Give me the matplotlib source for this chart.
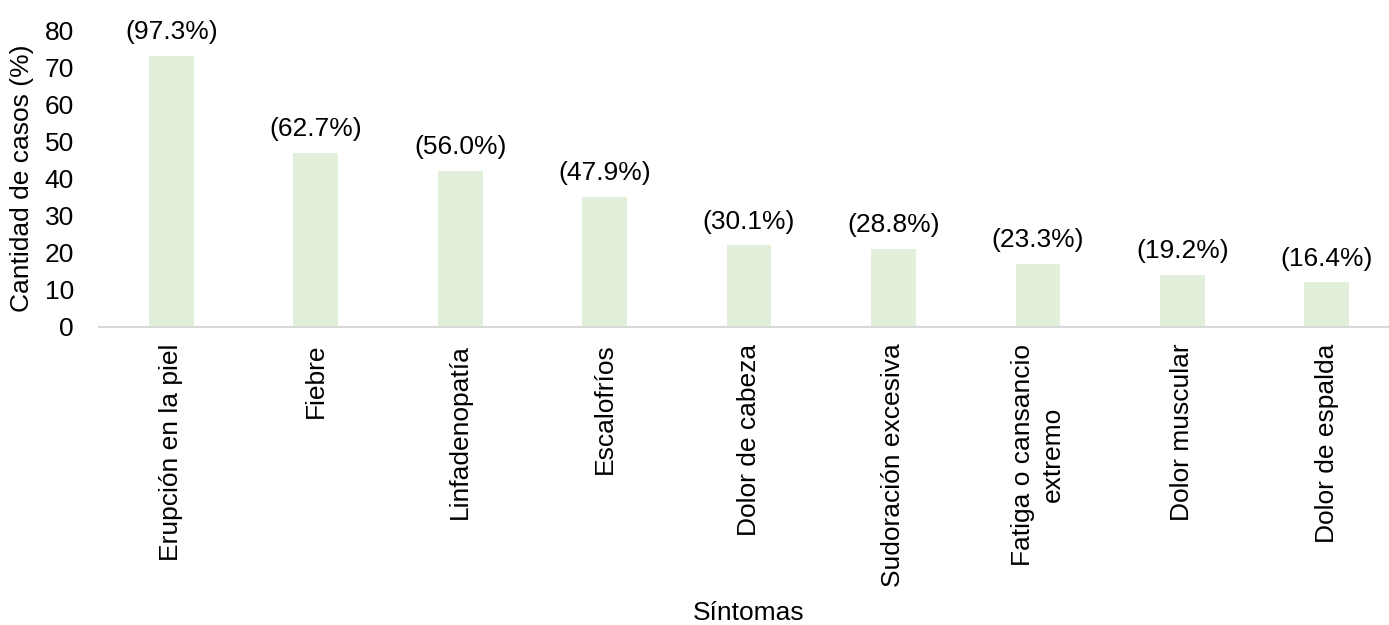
import matplotlib
matplotlib.use("Agg")
import matplotlib.pyplot as plt

sintomas = ["Erupción en la piel", "Fiebre", "Linfadenopatía", "Escalofríos",
            "Dolor de cabeza", "Sudoración excesiva", "Fatiga o cansancio\nextremo",
            "Dolor muscular", "Dolor de espalda"]
casos = [73, 47, 42, 35, 22, 21, 17, 14, 12]
porcentajes = ["(97.3%)", "(62.7%)", "(56.0%)", "(47.9%)", "(30.1%)",
               "(28.8%)", "(23.3%)", "(19.2%)", "(16.4%)"]
yticks = [0, 10, 20, 30, 40, 50, 60, 70, 80]

plt.rcParams['font.family'] = ['Liberation Sans', 'DejaVu Sans']
FS = 19

fig = plt.figure(figsize=(13.89, 6.25), dpi=100)
ax = fig.add_axes([99/1389, 298/625, 1300/1389, 297/625])

x = list(range(len(casos)))
bars = ax.bar(x, casos, width=0.31, color="#E2EFDA")

for xi, v, lab in zip(x, casos, porcentajes):
    ax.annotate(lab, (xi, v), xytext=(0, 8.5), textcoords="offset points",
                ha="center", va="bottom", fontsize=FS, color="black")

ax.set_xlim(-0.5, len(casos) - 0.5)
ax.set_ylim(0, 80)
ax.set_yticks(yticks)
ax.set_yticklabels([str(t) for t in yticks], fontsize=FS)
ax.set_xticks(x)
ax.set_xticklabels(sintomas, rotation=90, fontsize=FS, ha="center", va="top",
                   linespacing=1.3)
ax.tick_params(axis="x", length=0, pad=12)
ax.tick_params(axis="y", length=0, pad=18)

for s in ["top", "right", "left"]:
    ax.spines[s].set_visible(False)
ax.spines["bottom"].set_color("#D9D9D9")
ax.spines["bottom"].set_linewidth(1.5)

ax.set_ylabel("Cantidad de casos (%)", fontsize=FS, labelpad=8)
fig.text(749/1389, 1 - 613/625, "Síntomas", ha="center", va="center", fontsize=FS)

fig.savefig("out.png", dpi=100)
